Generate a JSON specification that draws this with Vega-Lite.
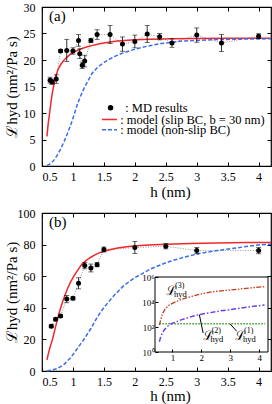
{
  "$schema": "https://vega.github.io/schema/vega-lite/v6.json",
  "padding": {"left": 3, "top": 0, "right": 2, "bottom": 0},
  "spacing": 6,
  "config": {
    "font": "Liberation Serif",
    "view": {"stroke": "black", "strokeWidth": 1.2},
    "axis": {"grid": false, "domain": false, "labelColor": "black", "titleColor": "black", "tickColor": "black", "labelFont": "Liberation Serif", "titleFont": "Liberation Serif", "labelFontSize": 12, "titleFontSize": 15, "titleFontWeight": "normal", "tickSize": -4, "tickWidth": 1, "labelPadding": 9, "labelOverlap": false},
    "legend": {"orient": "none", "padding": 0, "labelFont": "Liberation Serif", "labelFontSize": 12.5, "labelColor": "black"},
    "title": {"font": "Liberation Serif", "fontWeight": "normal", "fontSize": 15, "color": "black"}
  },
  "datasets": {
    "a_pts": [
      {"h": 0.63, "L": 16.2, "lo": 15.65, "hi": 16.75, "series": "MD results"},
      {"h": 0.66, "L": 15.9, "lo": 15.4, "hi": 16.4, "series": "MD results"},
      {"h": 0.73, "L": 16.4, "lo": 15.6, "hi": 17.2, "series": "MD results"},
      {"h": 0.80, "L": 21.7, "lo": 21.4, "hi": 22.0, "series": "MD results"},
      {"h": 0.90, "L": 21.8, "lo": 19.7, "hi": 23.9, "series": "MD results"},
      {"h": 1.00, "L": 21.7, "lo": 21.1, "hi": 22.3, "series": "MD results"},
      {"h": 1.09, "L": 23.7, "lo": 22.6, "hi": 24.8, "series": "MD results"},
      {"h": 1.11, "L": 21.2, "lo": 20.3, "hi": 22.1, "series": "MD results"},
      {"h": 1.15, "L": 19.0, "lo": 18.4, "hi": 19.6, "series": "MD results"},
      {"h": 1.19, "L": 19.8, "lo": 18.7, "hi": 20.9, "series": "MD results"},
      {"h": 1.29, "L": 23.7, "lo": 23.3, "hi": 24.1, "series": "MD results"},
      {"h": 1.39, "L": 24.8, "lo": 23.9, "hi": 25.7, "series": "MD results"},
      {"h": 1.60, "L": 24.8, "lo": 23.1, "hi": 26.5, "series": "MD results"},
      {"h": 1.80, "L": 23.0, "lo": 21.65, "hi": 24.35, "series": "MD results"},
      {"h": 2.00, "L": 23.5, "lo": 22.3, "hi": 24.7, "series": "MD results"},
      {"h": 2.20, "L": 24.9, "lo": 23.3, "hi": 26.5, "series": "MD results"},
      {"h": 2.40, "L": 24.4, "lo": 23.8, "hi": 25.0, "series": "MD results"},
      {"h": 2.60, "L": 23.2, "lo": 22.4, "hi": 24.0, "series": "MD results"},
      {"h": 3.00, "L": 24.7, "lo": 23.35, "hi": 26.05, "series": "MD results"},
      {"h": 3.40, "L": 23.2, "lo": 21.6, "hi": 24.8, "series": "MD results"},
      {"h": 4.00, "L": 24.5, "lo": 24.05, "hi": 24.95, "series": "MD results"}
    ],
    "a_slip": [
      {"h": 0.58, "L": 5.6}, {"h": 0.6, "L": 8.0}, {"h": 0.627, "L": 10.3}, {"h": 0.65, "L": 12.5}, {"h": 0.67, "L": 14.0}, {"h": 0.7, "L": 15.8}, {"h": 0.72, "L": 16.9}, {"h": 0.76, "L": 18.2}, {"h": 0.8, "L": 19.1}, {"h": 0.85, "L": 19.9}, {"h": 0.91, "L": 20.6}, {"h": 0.97, "L": 21.2}, {"h": 1.05, "L": 21.7}, {"h": 1.13, "L": 22.1}, {"h": 1.23, "L": 22.5}, {"h": 1.35, "L": 22.85}, {"h": 1.45, "L": 23.1}, {"h": 1.6, "L": 23.4}, {"h": 1.72, "L": 23.6}, {"h": 2.0, "L": 23.8}, {"h": 2.25, "L": 23.9}, {"h": 2.6, "L": 24.0}, {"h": 3.0, "L": 24.05}, {"h": 3.5, "L": 24.1}, {"h": 4.2, "L": 24.1}
    ],
    "a_noslip": [
      {"h": 0.58, "L": 0.1}, {"h": 0.62, "L": 0.3}, {"h": 0.66, "L": 0.7}, {"h": 0.7, "L": 1.2}, {"h": 0.75, "L": 2.1}, {"h": 0.8, "L": 3.2}, {"h": 0.857, "L": 4.6}, {"h": 0.91, "L": 6.1}, {"h": 0.965, "L": 7.8}, {"h": 1.02, "L": 9.7}, {"h": 1.07, "L": 11.6}, {"h": 1.12, "L": 13.1}, {"h": 1.18, "L": 14.7}, {"h": 1.25, "L": 16.2}, {"h": 1.31, "L": 17.5}, {"h": 1.38, "L": 18.4}, {"h": 1.45, "L": 19.1}, {"h": 1.55, "L": 19.9}, {"h": 1.66, "L": 20.6}, {"h": 1.8, "L": 21.3}, {"h": 1.99, "L": 22.0}, {"h": 2.2, "L": 22.6}, {"h": 2.42, "L": 23.1}, {"h": 2.79, "L": 23.6}, {"h": 3.33, "L": 23.85}, {"h": 3.8, "L": 23.95}, {"h": 4.2, "L": 24.0}
    ],
    "b_pts": [
      {"h": 0.65, "L": 28.4, "lo": 27.4, "hi": 29.4},
      {"h": 0.72, "L": 32.8, "lo": 32.0, "hi": 33.6},
      {"h": 0.80, "L": 34.8, "lo": 33.8, "hi": 35.8},
      {"h": 0.90, "L": 45.5, "lo": 43.2, "hi": 47.8},
      {"h": 1.00, "L": 46.0, "lo": 45.0, "hi": 47.0},
      {"h": 1.09, "L": 55.5, "lo": 52.0, "hi": 59.0},
      {"h": 1.19, "L": 66.7, "lo": 64.7, "hi": 68.7},
      {"h": 1.29, "L": 65.2, "lo": 62.7, "hi": 67.7},
      {"h": 1.39, "L": 67.3, "lo": 66.0, "hi": 68.6},
      {"h": 1.50, "L": 76.9, "lo": 75.3, "hi": 78.5},
      {"h": 2.00, "L": 78.1, "lo": 74.3, "hi": 81.9},
      {"h": 2.50, "L": 79.0, "lo": 77.3, "hi": 80.7},
      {"h": 3.00, "L": 76.2, "lo": 74.2, "hi": 78.2},
      {"h": 4.00, "L": 76.2, "lo": 74.2, "hi": 78.2}
    ],
    "b_slip": [
      {"h": 0.58, "L": 7}, {"h": 0.6, "L": 10.5}, {"h": 0.63, "L": 15}, {"h": 0.67, "L": 20.1}, {"h": 0.71, "L": 26.5}, {"h": 0.75, "L": 32.8}, {"h": 0.79, "L": 38.5}, {"h": 0.83, "L": 43.5}, {"h": 0.87, "L": 48}, {"h": 0.91, "L": 51.9}, {"h": 0.96, "L": 56.2}, {"h": 1.02, "L": 60.4}, {"h": 1.08, "L": 64.0}, {"h": 1.15, "L": 67.8}, {"h": 1.22, "L": 70.2}, {"h": 1.29, "L": 72.0}, {"h": 1.37, "L": 73.8}, {"h": 1.45, "L": 75.2}, {"h": 1.58, "L": 76.6}, {"h": 1.72, "L": 77.8}, {"h": 1.9, "L": 78.8}, {"h": 2.09, "L": 79.4}, {"h": 2.3, "L": 79.9}, {"h": 2.52, "L": 80.3}, {"h": 2.9, "L": 80.7}, {"h": 3.32, "L": 81.0}, {"h": 3.8, "L": 81.3}, {"h": 4.2, "L": 81.4}
    ],
    "b_noslip": [
      {"h": 0.58, "L": 0}, {"h": 0.65, "L": 0.5}, {"h": 0.75, "L": 1.5}, {"h": 0.857, "L": 4.2}, {"h": 0.965, "L": 8.5}, {"h": 1.07, "L": 14.2}, {"h": 1.18, "L": 20.1}, {"h": 1.29, "L": 26.9}, {"h": 1.39, "L": 33.9}, {"h": 1.5, "L": 40.2}, {"h": 1.66, "L": 47.6}, {"h": 1.82, "L": 54.0}, {"h": 1.98, "L": 58.6}, {"h": 2.25, "L": 64.5}, {"h": 2.52, "L": 68.8}, {"h": 2.79, "L": 72.0}, {"h": 3.06, "L": 74.5}, {"h": 3.33, "L": 76.2}, {"h": 3.6, "L": 77.7}, {"h": 4.0, "L": 79.8}, {"h": 4.2, "L": 80.2}
    ],
    "ins_1": [{"h": 0.55, "L": 180}, {"h": 4.2, "L": 180}],
    "ins_2": [
      {"h": 0.55, "L": 6.7}, {"h": 0.6, "L": 17}, {"h": 0.66, "L": 35}, {"h": 0.72, "L": 58}, {"h": 0.8, "L": 95}, {"h": 0.89, "L": 145}, {"h": 1.0, "L": 200}, {"h": 1.14, "L": 265}, {"h": 1.3, "L": 370}, {"h": 1.48, "L": 500}, {"h": 1.7, "L": 720}, {"h": 1.94, "L": 1000}, {"h": 2.3, "L": 1400}, {"h": 2.63, "L": 1900}, {"h": 3.0, "L": 2500}, {"h": 3.32, "L": 3200}, {"h": 3.8, "L": 4500}, {"h": 4.18, "L": 5800}
    ],
    "ins_3": [
      {"h": 0.55, "L": 140}, {"h": 0.6, "L": 400}, {"h": 0.66, "L": 1200}, {"h": 0.75, "L": 2800}, {"h": 0.89, "L": 5800}, {"h": 1.05, "L": 9000}, {"h": 1.25, "L": 14000}, {"h": 1.5, "L": 22000}, {"h": 1.83, "L": 36000}, {"h": 2.1, "L": 50000}, {"h": 2.4, "L": 67000}, {"h": 2.97, "L": 90000}, {"h": 3.55, "L": 125000}, {"h": 4.18, "L": 170000}
    ],
    "ins_labels": [
      {"h": 0.78, "L": 38000, "main": "ℒ", "sup": "(3)", "sub": "hyd"},
      {"h": 2.04, "L": 9.6, "main": "ℒ", "sup": "(2)", "sub": "hyd"},
      {"h": 3.16, "L": 9.6, "main": "ℒ", "sup": "(1)", "sub": "hyd"}
    ],
    "ins_ptr": [
      {"h": 1.93, "L": 1000, "h2": 2.06, "L2": 33},
      {"h": 2.99, "L": 180, "h2": 3.22, "L2": 45}
    ]
  },
  "vconcat": [
    {
      "width": 229,
      "height": 159,
      "title": {"text": "(a)", "anchor": "start", "frame": "group", "offset": -23, "dx": 7},
      "layer": [
        {
          "layer": [
            {
              "data": {"name": "a_pts"},
              "mark": {"type": "line", "color": "#777777", "strokeWidth": 0.8, "strokeDash": [1, 1.5]},
              "encoding": {
                "x": {"field": "h", "type": "quantitative", "scale": {"domain": [0.5, 4.2], "nice": false, "zero": false}, "axis": null},
                "y": {"field": "L", "type": "quantitative", "scale": {"domain": [0, 30], "nice": false}, "axis": null}
              }
            },
            {
              "data": {"name": "a_slip"},
              "mark": {"type": "line", "strokeWidth": 1.5},
              "encoding": {
                "x": {"field": "h", "type": "quantitative", "axis": null},
                "y": {"field": "L", "type": "quantitative", "axis": null},
                "stroke": {"datum": "model (slip BC, b = 30 nm)", "type": "nominal", "scale": {"range": ["#f0282d"]},
                  "legend": {"title": null, "legendX": 59, "legendY": 104, "symbolType": "stroke", "symbolSize": 225, "symbolStrokeWidth": 1.5, "symbolStrokeColor": "#f0282d", "labelOffset": 2.2, "labelExpr": "': ' + datum.label"}}
              }
            },
            {
              "data": {"name": "a_noslip"},
              "mark": {"type": "line", "strokeWidth": 1.5, "color": "#3b6fe8"},
              "encoding": {
                "x": {"field": "h", "type": "quantitative", "axis": null},
                "y": {"field": "L", "type": "quantitative", "axis": null},
                "strokeDash": {"datum": "model (non-slip BC)", "type": "nominal", "scale": {"range": [[4, 2]]},
                  "legend": {"title": null, "legendX": 59, "legendY": 114.2, "symbolType": "stroke", "symbolSize": 225, "symbolStrokeWidth": 1.5, "symbolStrokeColor": "#3b6fe8", "labelOffset": 2.2, "labelExpr": "': ' + datum.label"}}
              }
            },
            {
              "data": {"name": "a_pts"},
              "mark": {"type": "rule", "color": "black", "strokeWidth": 0.8},
              "encoding": {
                "x": {"field": "h", "type": "quantitative", "axis": null},
                "y": {"field": "lo", "type": "quantitative", "axis": null},
                "y2": {"field": "hi"}
              }
            },
            {
              "data": {"name": "a_pts"},
              "mark": {"type": "tick", "orient": "horizontal", "color": "black", "size": 5, "thickness": 0.8},
              "encoding": {
                "x": {"field": "h", "type": "quantitative", "axis": null},
                "y": {"field": "lo", "type": "quantitative", "axis": null}
              }
            },
            {
              "data": {"name": "a_pts"},
              "mark": {"type": "tick", "orient": "horizontal", "color": "black", "size": 5, "thickness": 0.8},
              "encoding": {
                "x": {"field": "h", "type": "quantitative", "axis": null},
                "y": {"field": "hi", "type": "quantitative", "axis": null}
              }
            },
            {
              "data": {"name": "a_pts"},
              "mark": {"type": "point", "filled": true, "size": 25, "opacity": 1},
              "encoding": {
                "x": {"field": "h", "type": "quantitative", "axis": null},
                "y": {"field": "L", "type": "quantitative", "axis": null},
                "fill": {"field": "series", "type": "nominal", "scale": {"range": ["black"]},
                  "legend": {"title": null, "legendX": 62.3, "legendY": 94.6, "symbolType": "circle", "symbolSize": 30, "symbolFillColor": "black", "symbolStrokeWidth": 0, "labelOffset": 8.4, "labelExpr": "': ' + datum.label"}}
              }
            }
          ]
        },
        {
          "data": {"name": "a_pts"},
          "mark": {"type": "point", "opacity": 0},
          "encoding": {
            "x": {"field": "h", "type": "quantitative", "axis": {"orient": "bottom", "values": [0.5, 1, 1.5, 2, 2.5, 3, 3.5, 4], "format": "~g", "labelOverlap": false, "title": "h (nm)", "titleX": 128, "titlePadding": 2}},
            "y": {"field": "L", "type": "quantitative", "axis": {"orient": "left", "values": [0, 5, 10, 15, 20, 25, 30], "labelOverlap": false, "title": "ℒhyd (nm²/Pa s)", "titleX": -23, "titleBaseline": "bottom", "labelPadding": 11}}
          }
        },
        {
          "data": {"name": "a_pts"},
          "mark": {"type": "point", "opacity": 0},
          "encoding": {
            "x": {"field": "h", "type": "quantitative", "axis": {"orient": "top", "labels": false, "title": null, "values": [0.5, 1, 1.5, 2, 2.5, 3, 3.5, 4]}},
            "y": {"field": "L", "type": "quantitative", "axis": {"orient": "right", "labels": false, "title": null, "values": [0, 5, 10, 15, 20, 25, 30]}}
          }
        }
      ],
      "resolve": {"axis": {"x": "independent", "y": "independent"}}
    },
    {
      "width": 229,
      "height": 158,
      "title": {"text": "(b)", "anchor": "start", "frame": "group", "offset": -23, "dx": 7},
      "layer": [
        {
          "layer": [
            {
              "data": {"name": "b_pts"},
              "mark": {"type": "line", "color": "#777777", "strokeWidth": 0.8, "strokeDash": [1, 1.5]},
              "encoding": {
                "x": {"field": "h", "type": "quantitative", "scale": {"domain": [0.5, 4.2], "nice": false, "zero": false}, "axis": null},
                "y": {"field": "L", "type": "quantitative", "scale": {"domain": [0, 100], "nice": false}, "axis": null}
              }
            },
            {
              "data": {"name": "b_slip"},
              "mark": {"type": "line", "strokeWidth": 1.5, "color": "#f0282d"},
              "encoding": {
                "x": {"field": "h", "type": "quantitative", "axis": null},
                "y": {"field": "L", "type": "quantitative", "axis": null}
              }
            },
            {
              "data": {"name": "b_noslip"},
              "mark": {"type": "line", "strokeWidth": 1.5, "strokeDash": [4, 2], "color": "#3b6fe8"},
              "encoding": {
                "x": {"field": "h", "type": "quantitative", "axis": null},
                "y": {"field": "L", "type": "quantitative", "axis": null}
              }
            },
            {
              "data": {"name": "b_pts"},
              "mark": {"type": "rule", "color": "black", "strokeWidth": 0.8},
              "encoding": {
                "x": {"field": "h", "type": "quantitative", "axis": null},
                "y": {"field": "lo", "type": "quantitative", "axis": null},
                "y2": {"field": "hi"}
              }
            },
            {
              "data": {"name": "b_pts"},
              "mark": {"type": "tick", "orient": "horizontal", "color": "black", "size": 5, "thickness": 0.8},
              "encoding": {
                "x": {"field": "h", "type": "quantitative", "axis": null},
                "y": {"field": "lo", "type": "quantitative", "axis": null}
              }
            },
            {
              "data": {"name": "b_pts"},
              "mark": {"type": "tick", "orient": "horizontal", "color": "black", "size": 5, "thickness": 0.8},
              "encoding": {
                "x": {"field": "h", "type": "quantitative", "axis": null},
                "y": {"field": "hi", "type": "quantitative", "axis": null}
              }
            },
            {
              "data": {"name": "b_pts"},
              "mark": {"type": "point", "filled": true, "size": 25, "opacity": 1, "color": "black"},
              "encoding": {
                "x": {"field": "h", "type": "quantitative", "axis": null},
                "y": {"field": "L", "type": "quantitative", "axis": null}
              }
            }
          ]
        },
        {
          "data": {"name": "b_pts"},
          "mark": {"type": "point", "opacity": 0},
          "encoding": {
            "x": {"field": "h", "type": "quantitative", "scale": {"domain": [0.5, 4.2], "nice": false, "zero": false},
              "axis": {"orient": "bottom", "values": [0.5, 1, 1.5, 2, 2.5, 3, 3.5, 4], "format": "~g", "labelOverlap": false, "title": "h (nm)", "titleX": 128, "titlePadding": 1}},
            "y": {"field": "L", "type": "quantitative", "scale": {"domain": [0, 100], "nice": false},
              "axis": {"orient": "left", "values": [0, 20, 40, 60, 80, 100], "labelOverlap": false, "title": "ℒhyd (nm²/Pa s)", "titleX": -23, "titleBaseline": "bottom", "labelPadding": 11}}
          }
        },
        {
          "data": {"name": "b_pts"},
          "mark": {"type": "point", "opacity": 0},
          "encoding": {
            "x": {"field": "h", "type": "quantitative", "scale": {"domain": [0.5, 4.2], "nice": false, "zero": false}, "axis": {"orient": "top", "labels": false, "title": null, "values": [0.5, 1, 1.5, 2, 2.5, 3, 3.5, 4]}},
            "y": {"field": "L", "type": "quantitative", "scale": {"domain": [0, 100], "nice": false}, "axis": {"orient": "right", "labels": false, "title": null, "values": [0, 20, 40, 60, 80, 100]}}
          }
        },
        {
          "layer": [
            {
              "data": {"values": [{}]},
              "mark": {"type": "rect", "fill": "white", "stroke": "black", "strokeWidth": 1},
              "encoding": {
                "x": {"datum": 0.4, "type": "quantitative", "scale": {"domain": [0.4, 4.3], "range": [113, 226], "nice": false, "zero": false},
                  "axis": {"orient": "bottom", "offset": -19, "values": [1, 2, 3, 4], "format": "~g", "labelOverlap": false, "title": null, "labelFontSize": 9, "tickSize": -3, "labelPadding": 4, "zindex": 1}},
                "x2": {"datum": 4.3},
                "y": {"datum": 1, "type": "quantitative", "scale": {"type": "log", "domain": [1, 1000000], "range": [139, 64], "nice": false},
                  "axis": {"orient": "left", "offset": -113, "values": [1, 100, 10000, 1000000], "labelOverlap": false, "title": null, "labelFontSize": 9, "tickSize": -3, "labelPadding": 4, "zindex": 1,
                    "labelExpr": "datum.value == 1 ? '10⁰' : datum.value == 100 ? '10²' : datum.value == 10000 ? '10⁴' : '10⁶'"}},
                "y2": {"datum": 1000000}
              }
            },
            {
              "data": {"name": "ins_1"},
              "mark": {"type": "line", "color": "#3c9a2c", "strokeWidth": 1.6, "strokeDash": [1.5, 1.5]},
              "encoding": {"x": {"field": "h", "type": "quantitative"}, "y": {"field": "L", "type": "quantitative"}}
            },
            {
              "data": {"name": "ins_2"},
              "mark": {"type": "line", "color": "#6b3ff2", "strokeWidth": 1.5, "strokeDash": [5, 2, 1.5, 2]},
              "encoding": {"x": {"field": "h", "type": "quantitative"}, "y": {"field": "L", "type": "quantitative"}}
            },
            {
              "data": {"name": "ins_3"},
              "mark": {"type": "line", "color": "#c23b1e", "strokeWidth": 1.3, "strokeDash": [5, 1.5, 1.5, 1.5, 1.5, 1.5]},
              "encoding": {"x": {"field": "h", "type": "quantitative"}, "y": {"field": "L", "type": "quantitative"}}
            },
            {
              "data": {"name": "ins_ptr"},
              "mark": {"type": "rule", "color": "black", "strokeWidth": 1},
              "encoding": {"x": {"field": "h", "type": "quantitative"}, "y": {"field": "L", "type": "quantitative"}, "x2": {"field": "h2"}, "y2": {"field": "L2"}}
            },
            {
              "data": {"name": "ins_labels"},
              "mark": {"type": "text", "align": "left", "baseline": "alphabetic", "fontSize": 13, "color": "black"},
              "encoding": {"x": {"field": "h", "type": "quantitative"}, "y": {"field": "L", "type": "quantitative"}, "text": {"field": "main"}}
            },
            {
              "data": {"name": "ins_labels"},
              "mark": {"type": "text", "align": "left", "baseline": "alphabetic", "fontSize": 8, "dx": 9, "dy": -7, "color": "black"},
              "encoding": {"x": {"field": "h", "type": "quantitative"}, "y": {"field": "L", "type": "quantitative"}, "text": {"field": "sup"}}
            },
            {
              "data": {"name": "ins_labels"},
              "mark": {"type": "text", "align": "left", "baseline": "alphabetic", "fontSize": 8.5, "dx": 8, "dy": 2, "color": "black"},
              "encoding": {"x": {"field": "h", "type": "quantitative"}, "y": {"field": "L", "type": "quantitative"}, "text": {"field": "sub"}}
            }
          ]
        }
      ],
      "resolve": {"scale": {"x": "independent", "y": "independent"}, "axis": {"x": "independent", "y": "independent"}}
    }
  ]
}
